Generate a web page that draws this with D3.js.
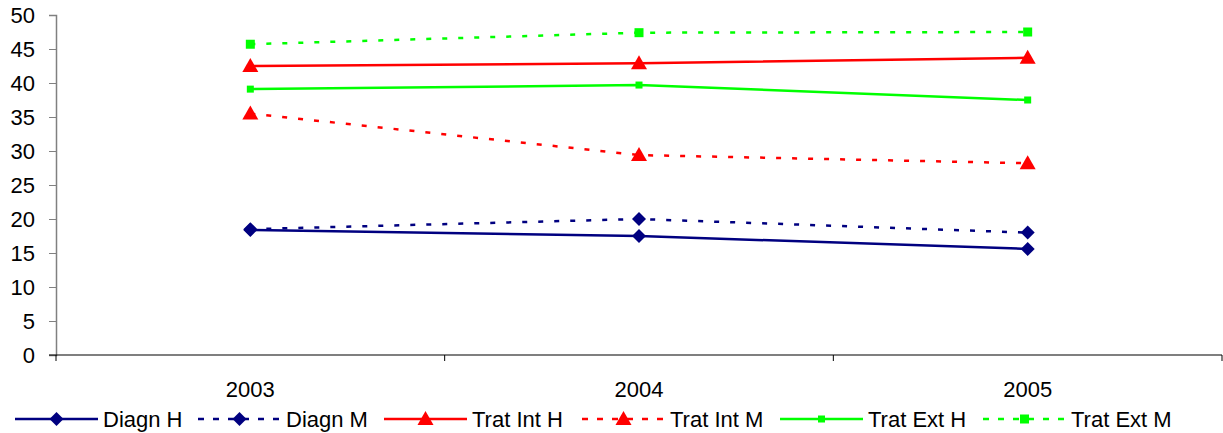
<!DOCTYPE html>
<html>
<head>
<meta charset="utf-8">
<script src="https://cdn.jsdelivr.net/npm/d3@7"></script>
<style>
  body { margin: 0; background: #fff; }
  svg { display: block; font-family: "Liberation Sans", Arial, sans-serif; }
</style>
</head>
<body>
<div id="chart"></div>
<script>
// datos
const years = ['2003', '2004', '2005'];
const diagnH = [18.4, 17.5, 15.6];
const diagnM = [18.5, 20.0, 18.0];
const tratIntH = [42.5, 42.9, 43.7];
const tratIntM = [35.5, 29.4, 28.2];
const tratExtH = [39.1, 39.7, 37.5];
const tratExtM = [45.7, 47.4, 47.5];
const yTicks = [0, 5, 10, 15, 20, 25, 30, 35, 40, 45, 50];

const series = [
  { name: 'Diagn H', values: diagnH, color: '#000080', dash: null, marker: 'diamond' },
  { name: 'Diagn M', values: diagnM, color: '#000080', dash: '5,11', marker: 'diamond' },
  { name: 'Trat Int H', values: tratIntH, color: '#ff0000', dash: null, marker: 'triangle' },
  { name: 'Trat Int M', values: tratIntM, color: '#ff0000', dash: '5,11', marker: 'triangle' },
  { name: 'Trat Ext H', values: tratExtH, color: '#00ff00', dash: null, marker: 'squareSmall' },
  { name: 'Trat Ext M', values: tratExtM, color: '#00ff00', dash: '5,11', marker: 'square' }
];

const width = 1223, height = 433;
const margin = { top: 15, right: 1, bottom: 78, left: 56 };
const fontSize = 22;

const svg = d3.select('#chart').append('svg')
  .attr('width', width)
  .attr('height', height);

const x = d3.scaleBand().domain(years).range([margin.left, width - margin.right]).padding(0);
const y = d3.scaleLinear().domain([0, 50]).range([height - margin.bottom, margin.top]);

// eje y
const yAxis = svg.append('g')
  .attr('transform', `translate(${margin.left},0)`)
  .call(d3.axisLeft(y).tickValues(yTicks).tickSize(7).tickPadding(14));
yAxis.select('.domain').attr('stroke', '#808080').attr('stroke-width', 1.5);
yAxis.selectAll('.tick line').attr('stroke', '#808080');
yAxis.selectAll('.tick text').attr('font-size', fontSize).attr('fill', '#000')
  .attr('font-family', '"Liberation Sans", Arial, sans-serif');

// eje x
const x0 = y(0);
svg.append('line')
  .attr('x1', margin.left - 7).attr('x2', width - margin.right)
  .attr('y1', x0).attr('y2', x0)
  .attr('stroke', '#000').attr('stroke-width', 1.2);
const bounds = years.map(d => x(d)).concat([x.range()[1]]);
svg.selectAll('.xtick').data(bounds).join('line')
  .attr('x1', d => d).attr('x2', d => d)
  .attr('y1', x0).attr('y2', x0 + 6)
  .attr('stroke', '#000');
svg.selectAll('.xlabel').data(years).join('text')
  .attr('x', d => x(d) + x.bandwidth() / 2)
  .attr('y', x0 + 42)
  .attr('text-anchor', 'middle')
  .attr('font-size', fontSize)
  .text(d => d);

const cx = d => x(d) + x.bandwidth() / 2;

function drawMarker(g, type, color) {
  if (type === 'diamond') {
    g.append('path').attr('d', 'M0,-7L7,0L0,7L-7,0Z').attr('fill', color);
  } else if (type === 'triangle') {
    g.append('path').attr('d', 'M0,-8L8,6L-8,6Z').attr('fill', color);
  } else if (type === 'square') {
    g.append('rect').attr('x', -4.5).attr('y', -4.5).attr('width', 9).attr('height', 9).attr('fill', color);
  } else {
    g.append('rect').attr('x', -3.5).attr('y', -3.5).attr('width', 7).attr('height', 7).attr('fill', color);
  }
}

const line = d3.line().x(d => cx(d.year)).y(d => y(d.v));

series.forEach(s => {
  const pts = years.map((yr, i) => ({ year: yr, v: s.values[i] }));
  svg.append('path')
    .datum(pts)
    .attr('d', line)
    .attr('fill', 'none')
    .attr('stroke', s.color)
    .attr('stroke-width', 2.5)
    .attr('stroke-dasharray', s.dash);
  pts.forEach(p => {
    const g = svg.append('g').attr('transform', `translate(${cx(p.year)},${y(p.v)})`);
    drawMarker(g, s.marker, s.color);
  });
});

// leyenda
const legendY = 419;
const legendX = [15, 198, 384, 582, 780, 983];
const sampleW = 83;
series.forEach((s, i) => {
  const lx = legendX[i];
  const g = svg.append('g');
  g.append('line')
    .attr('x1', lx).attr('x2', lx + sampleW)
    .attr('y1', legendY).attr('y2', legendY)
    .attr('stroke', s.color).attr('stroke-width', 2.5)
    .attr('stroke-dasharray', s.dash ? '6,9' : null);
  const m = g.append('g').attr('transform', `translate(${lx + sampleW / 2},${legendY})`);
  drawMarker(m, s.marker, s.color);
  g.append('text')
    .attr('x', lx + sampleW + 5)
    .attr('y', legendY + 8)
    .attr('font-size', fontSize)
    .text(s.name);
});
</script>
</body>
</html>
